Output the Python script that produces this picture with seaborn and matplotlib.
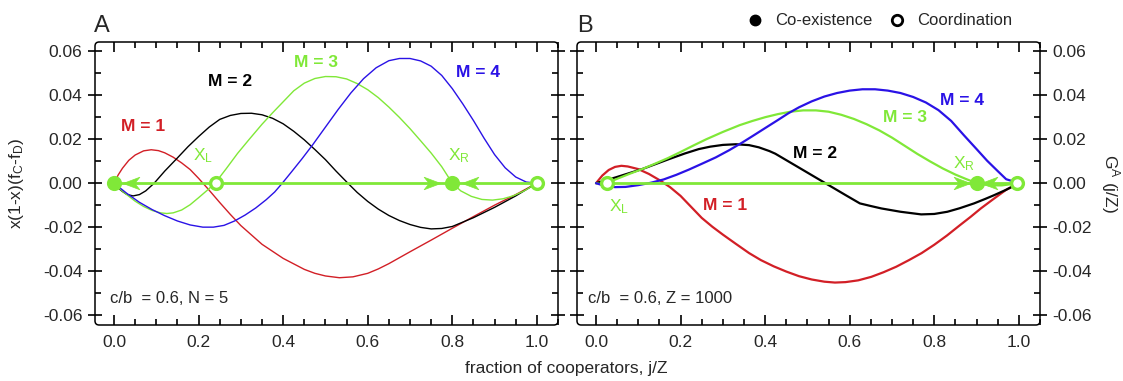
import sys
import numpy as np
import pandas as pd
import matplotlib
matplotlib.use("Agg")
import matplotlib.pyplot as plt
import seaborn as sns
from matplotlib.path import Path
from matplotlib.lines import Line2D
from matplotlib.patches import FancyBboxPatch
from matplotlib.ticker import MultipleLocator

# colours
RED = "#d21f26"
BLACK = "#000000"
GREEN = "#80e838"
BLUE = "#2a12e6"

# ---------------- panel A (N = 5) ----------------
xA_m1 = [0, 0.01, 0.02, 0.035, 0.05, 0.07, 0.088, 0.105, 0.12, 0.14, 0.16, 0.18, 0.2, 0.225,
         0.25, 0.275, 0.3, 0.35, 0.4, 0.45, 0.475, 0.5, 0.533, 0.565, 0.6, 0.625, 0.65, 0.7,
         0.75, 0.8, 0.85, 0.9, 0.95, 1.0]
yA_m1 = [0, 0.0038, 0.0068, 0.0104, 0.0128, 0.0147, 0.0152, 0.0148, 0.0138, 0.0118, 0.0092,
         0.0062, 0.0022, -0.0032, -0.0088, -0.0142, -0.0193, -0.0278, -0.0342, -0.0392,
         -0.0410, -0.0422, -0.0430, -0.0426, -0.0410, -0.0390, -0.0366, -0.0312, -0.0259,
         -0.0205, -0.0152, -0.0100, -0.0052, 0]

xA_m2 = [0, 0.01, 0.02, 0.03, 0.045, 0.06, 0.075, 0.095, 0.12, 0.15, 0.175, 0.2, 0.225, 0.25,
         0.275, 0.3, 0.325, 0.35, 0.375, 0.4, 0.425, 0.45, 0.475, 0.5, 0.525, 0.553, 0.575,
         0.6, 0.625, 0.65, 0.675, 0.7, 0.725, 0.75, 0.775, 0.8, 0.85, 0.9, 0.95, 1.0]
yA_m2 = [0, -0.0022, -0.0038, -0.0051, -0.0058, -0.0052, -0.0035, 0, 0.0055, 0.0115, 0.0166,
         0.0212, 0.0255, 0.0290, 0.0308, 0.0317, 0.0318, 0.0311, 0.0295, 0.0270, 0.0236,
         0.0197, 0.0153, 0.0107, 0.0055, 0, -0.0042, -0.0083, -0.0118, -0.0147, -0.0170,
         -0.0188, -0.0201, -0.0208, -0.0206, -0.0197, -0.0157, -0.0110, -0.0058, 0]

xA_m3 = [0, 0.015, 0.03, 0.05, 0.07, 0.09, 0.11, 0.125, 0.14, 0.16, 0.18, 0.2, 0.22, 0.239,
         0.265, 0.292, 0.32, 0.35, 0.375, 0.4, 0.425, 0.45, 0.475, 0.5, 0.525, 0.55, 0.575,
         0.6, 0.625, 0.65, 0.675, 0.7, 0.725, 0.75, 0.775, 0.8, 0.82, 0.845, 0.87, 0.895,
         0.92, 0.945, 0.97, 1.0]
yA_m3 = [0, -0.0028, -0.0052, -0.0082, -0.0106, -0.0124, -0.0135, -0.0138, -0.0135, -0.0122,
         -0.0098, -0.0066, -0.0033, 0, 0.0065, 0.0135, 0.0200, 0.0268, 0.0320, 0.0370,
         0.0420, 0.0455, 0.0476, 0.0485, 0.0484, 0.0474, 0.0453, 0.0425, 0.0389, 0.0346,
         0.0299, 0.0248, 0.0193, 0.0137, 0.0075, 0, -0.0035, -0.0060, -0.0074, -0.0077,
         -0.0071, -0.0057, -0.0035, 0]

xA_m4 = [0, 0.015, 0.03, 0.06, 0.09, 0.12, 0.15, 0.18, 0.21, 0.235, 0.26, 0.285, 0.31, 0.335,
         0.36, 0.38, 0.398, 0.42, 0.445, 0.47, 0.5, 0.53, 0.56, 0.59, 0.62, 0.65, 0.675, 0.7,
         0.725, 0.75, 0.775, 0.8, 0.825, 0.85, 0.875, 0.9, 0.925, 0.95, 0.975, 1.0]
yA_m4 = [0, -0.0023, -0.0046, -0.0087, -0.0120, -0.0148, -0.0172, -0.0190, -0.0200, -0.0200,
         -0.0192, -0.0172, -0.0145, -0.0113, -0.0075, -0.0040, 0, 0.0052, 0.0112, 0.0175,
         0.0255, 0.0335, 0.0410, 0.0475, 0.0525, 0.0557, 0.0567, 0.0567, 0.0556, 0.0532,
         0.0490, 0.0430, 0.0360, 0.0285, 0.0205, 0.0130, 0.0070, 0.0028, 0.0005, 0]

fixedA_x = [0.0, 0.24, 0.8, 1.0]
fixedA_stable = [True, False, True, False]
arrowsA_x = [0.04, 0.752, 0.843]
arrowsA_dir = ["left", "right", "left"]

# ---------------- panel B (Z = 1000) ----------------
xB_m1 = [0, 0.015, 0.03, 0.045, 0.06, 0.075, 0.1, 0.125, 0.15, 0.175, 0.2, 0.225, 0.25, 0.275,
         0.3, 0.33, 0.362, 0.39, 0.42, 0.45, 0.48, 0.51, 0.54, 0.565, 0.59, 0.62, 0.651, 0.68,
         0.71, 0.74, 0.77, 0.8, 0.83, 0.86, 0.886, 0.91, 0.94, 0.97, 1.0]
yB_m1 = [0, 0.0035, 0.0060, 0.0074, 0.0079, 0.0076, 0.0064, 0.0042, 0.0014, -0.0018, -0.0058,
         -0.0108, -0.0158, -0.0198, -0.0234, -0.0275, -0.0318, -0.0350, -0.0378, -0.0402,
         -0.0423, -0.0438, -0.0448, -0.0452, -0.0450, -0.0442, -0.0426, -0.0405, -0.0380,
         -0.0350, -0.0318, -0.0280, -0.0238, -0.0192, -0.0153, -0.0115, -0.0072, -0.0030, 0]

xB_m2 = [0, 0.046, 0.109, 0.172, 0.21, 0.243, 0.27, 0.3, 0.331, 0.362, 0.385, 0.41, 0.424,
         0.47, 0.5, 0.53, 0.56, 0.59, 0.624, 0.65, 0.675, 0.72, 0.769, 0.8, 0.831, 0.86,
         0.894, 0.92, 0.941, 0.97, 1.0]
yB_m2 = [0, 0.0026, 0.0064, 0.0109, 0.0135, 0.0155, 0.0166, 0.0174, 0.0177, 0.0173, 0.0163,
         0.0146, 0.0134, 0.0082, 0.0048, 0.0014, -0.0020, -0.0054, -0.0092, -0.0104, -0.0115,
         -0.0130, -0.0142, -0.0140, -0.0130, -0.0114, -0.0092, -0.0072, -0.0055, -0.0030, 0]

xB_m3 = [0, 0.012, 0.025, 0.05, 0.08, 0.109, 0.14, 0.17, 0.2, 0.23, 0.26, 0.3, 0.34, 0.37, 0.4,
         0.43, 0.46, 0.49, 0.52, 0.55, 0.58, 0.61, 0.64, 0.67, 0.7, 0.73, 0.76, 0.79, 0.82,
         0.85, 0.875, 0.9, 0.93, 0.96, 0.98, 1.0]
yB_m3 = [0, -0.0004, 0, 0.0020, 0.0043, 0.0064, 0.0089, 0.0114, 0.0142, 0.0171, 0.0199, 0.0233,
         0.0264, 0.0283, 0.0300, 0.0314, 0.0325, 0.0331, 0.0331, 0.0325, 0.0311, 0.0292,
         0.0268, 0.0240, 0.0207, 0.0170, 0.0133, 0.0099, 0.0067, 0.0039, 0.0019, 0, -0.0010,
         -0.0010, -0.0005, 0]

xB_m4 = [0, 0.02, 0.045, 0.07, 0.1, 0.13, 0.16, 0.19, 0.22, 0.25, 0.283, 0.315, 0.346, 0.375,
         0.402, 0.43, 0.455, 0.48, 0.51, 0.54, 0.57, 0.6, 0.63, 0.66, 0.69, 0.72, 0.75, 0.78,
         0.81, 0.84, 0.87, 0.9, 0.925, 0.95, 0.97, 1.0]
yB_m4 = [0, -0.0012, -0.0018, -0.0017, -0.0009, 0.0002, 0.0017, 0.0038, 0.0062, 0.0088, 0.0117,
         0.0150, 0.0185, 0.0220, 0.0253, 0.0287, 0.0318, 0.0345, 0.0372, 0.0394, 0.0410,
         0.0421, 0.0427, 0.0427, 0.0421, 0.0410, 0.0392, 0.0367, 0.0332, 0.0283, 0.0218,
         0.0155, 0.0102, 0.0055, 0.0018, 0]

fixedB_x = [0.025, 0.9, 0.995]
fixedB_stable = [False, True, False]
arrowsB_x = [0.866, 0.93]
arrowsB_dir = ["right", "left"]

labels_M = ["M = 1", "M = 2", "M = 3", "M = 4"]
colors_M = [RED, BLACK, GREEN, BLUE]
labposA = [(0.069, 0.0258), (0.275, 0.0462), (0.478, 0.055), (0.861, 0.0505)]
labposB = [(0.304, -0.0101), (0.518, 0.0134), (0.730, 0.0298), (0.865, 0.0376)]

sns.set_style("ticks")
plt.rcParams["font.family"] = ["Liberation Sans", "DejaVu Sans"]
plt.rcParams["mathtext.fontset"] = "custom"
plt.rcParams["mathtext.rm"] = "Liberation Sans"
plt.rcParams["mathtext.it"] = "Liberation Sans:italic"
plt.rcParams["mathtext.default"] = "rm"
plt.rcParams["axes.axisbelow"] = False

head_r = Path([(1, 0), (-1, 0.75), (-0.4, 0), (-1, -0.75), (1, 0)],
              [Path.MOVETO, Path.LINETO, Path.LINETO, Path.LINETO, Path.CLOSEPOLY])
head_l = Path([(-1, 0), (1, 0.75), (0.4, 0), (1, -0.75), (-1, 0)],
              [Path.MOVETO, Path.LINETO, Path.LINETO, Path.LINETO, Path.CLOSEPOLY])

W, H = 1123, 381
fig = plt.figure(figsize=(W / 100, H / 100), dpi=100)
axA = fig.add_axes([95 / W, 56 / H, 463 / W, 283 / H])
axB = fig.add_axes([577 / W, 56 / H, 463 / W, 283 / H])


def draw_panel(ax, curves, lw, fixed_x, stable, arr_x, arr_dir, labpos):
    for (x, y), c in zip(curves, colors_M):
        sns.lineplot(x=x, y=y, ax=ax, color=c, linewidth=lw, sort=False, estimator=None)
    ax.plot([fixed_x[0], fixed_x[-1]], [0, 0], color=GREEN, lw=2.0, zorder=4)
    for xa, d in zip(arr_x, arr_dir):
        ax.plot([xa], [0], ls="none", marker=head_r if d == "right" else head_l,
                ms=12, color=GREEN, mew=0.5, zorder=5)
    for xf, s in zip(fixed_x, stable):
        ax.plot([xf], [0], ls="none", marker="o", ms=8.5, mec=GREEN, mew=2.4,
                mfc=GREEN if s else "white", zorder=6)
    for (tx, ty), t, c in zip(labpos, labels_M, colors_M):
        ax.text(tx, ty, t, color=c, fontsize=12.5, fontweight="bold", ha="center", va="center")
    ax.set_xlim(-0.045, 1.05)
    ax.set_ylim(-0.0645, 0.0642)
    ax.xaxis.set_major_locator(MultipleLocator(0.2))
    ax.xaxis.set_minor_locator(MultipleLocator(0.05))
    ax.yaxis.set_major_locator(MultipleLocator(0.02))
    ax.yaxis.set_minor_locator(MultipleLocator(0.01))
    ax.xaxis.set_major_formatter(lambda v, p: f"{v:.1f}")
    ax.yaxis.set_major_formatter(lambda v, p: f"{v:.2f}")
    ax.tick_params(which="both", direction="in", top=True, right=True, bottom=True, left=True,
                   labelsize=12.5, width=1.2, color="black")
    ax.tick_params(axis="x", which="major", length=7, pad=7)
    ax.tick_params(axis="y", which="major", direction="inout", length=10, pad=4)
    ax.tick_params(which="minor", length=4)
    ax.set_axisbelow(False)
    # rounded frame instead of the square spines
    for sp in ax.spines.values():
        sp.set_visible(False)
    frame = FancyBboxPatch((0, 0), 1, 1, boxstyle="round,pad=0,rounding_size=0.009",
                           mutation_aspect=463 / 283, transform=ax.transAxes, fill=False,
                           lw=1.1, ec="black", clip_on=False, zorder=10)
    ax.add_patch(frame)
    ax.set_xlabel("")
    ax.set_ylabel("")


draw_panel(axA, [(xA_m1, yA_m1), (xA_m2, yA_m2), (xA_m3, yA_m3), (xA_m4, yA_m4)], 1.0,
           fixedA_x, fixedA_stable, arrowsA_x, arrowsA_dir, labposA)
draw_panel(axB, [(xB_m1, yB_m1), (xB_m2, yB_m2), (xB_m3, yB_m3), (xB_m4, yB_m4)], 1.6,
           fixedB_x, fixedB_stable, arrowsB_x, arrowsB_dir, labposB)

axB.tick_params(axis="y", labelleft=False, labelright=True)

axA.text(0.211, 0.0126, "X$_{\\rm L}$", color=GREEN, fontsize=12.5, ha="center", va="center")
axA.text(0.815, 0.0126, "X$_{\\rm R}$", color=GREEN, fontsize=12.5, ha="center", va="center")
axB.text(0.054, -0.0109, "X$_{\\rm L}$", color=GREEN, fontsize=12.5, ha="center", va="center")
axB.text(0.870, 0.0089, "X$_{\\rm R}$", color=GREEN, fontsize=12.5, ha="center", va="center")

axA.text(-0.0085, -0.0525, "c/b  = 0.6, N = 5", fontsize=12, ha="left", va="center")
axB.text(-0.019, -0.0525, "c/b  = 0.6, Z = 1000", fontsize=12, ha="left", va="center")

axA.set_ylabel("x(1-x)(f$_{\\rm C}$-f$_{\\rm D}$)", fontsize=12.5)
axA.yaxis.set_label_coords(-0.148, 0.5)
axB.yaxis.set_label_position("right")
axB.set_ylabel("G$^{\\rm A}$ (j/Z)", fontsize=12.5, rotation=270, va="center")
axB.yaxis.set_label_coords(1.152, 0.5)

fig.text(0.504, 0.032, "fraction of cooperators, j/Z", fontsize=12.5, ha="center", va="center")
fig.text(94 / W, 1 - 32 / H, "A", fontsize=17, va="baseline", ha="left")
fig.text(577 / W, 1 - 32 / H, "B", fontsize=17, va="baseline", ha="left")

handles = [Line2D([], [], ls="none", marker="o", ms=7.5, color="black"),
           Line2D([], [], ls="none", marker="o", ms=7.5, mfc="white", mec="black", mew=2)]
fig.legend(handles, ["Co-existence", "Coordination"], ncol=2, frameon=False, loc="center",
           bbox_to_anchor=(0.783, 0.945), fontsize=12, handlelength=1.0,
           handletextpad=0.7, columnspacing=1.0)

fig.savefig("out.png", dpi=100)

# quick check that the top tick at x = 0.2 of panel A really got drawn
img = plt.imread("out.png")
col = int(round(95 + (0.2 + 0.045) / 1.095 * 463))
strip = [round(float(img[r, col, :3].mean()), 2) for r in range(38, 55)]
if min(strip[5:]) > 0.8:
    t = axA.xaxis.get_major_ticks()[2]
    print("TICK MISSING", col, strip, t.get_loc(), t.tick1line.get_visible(),
          t.tick2line.get_visible(), t.tick2line.get_markersize(), file=sys.stderr)
    sys.exit(1)
